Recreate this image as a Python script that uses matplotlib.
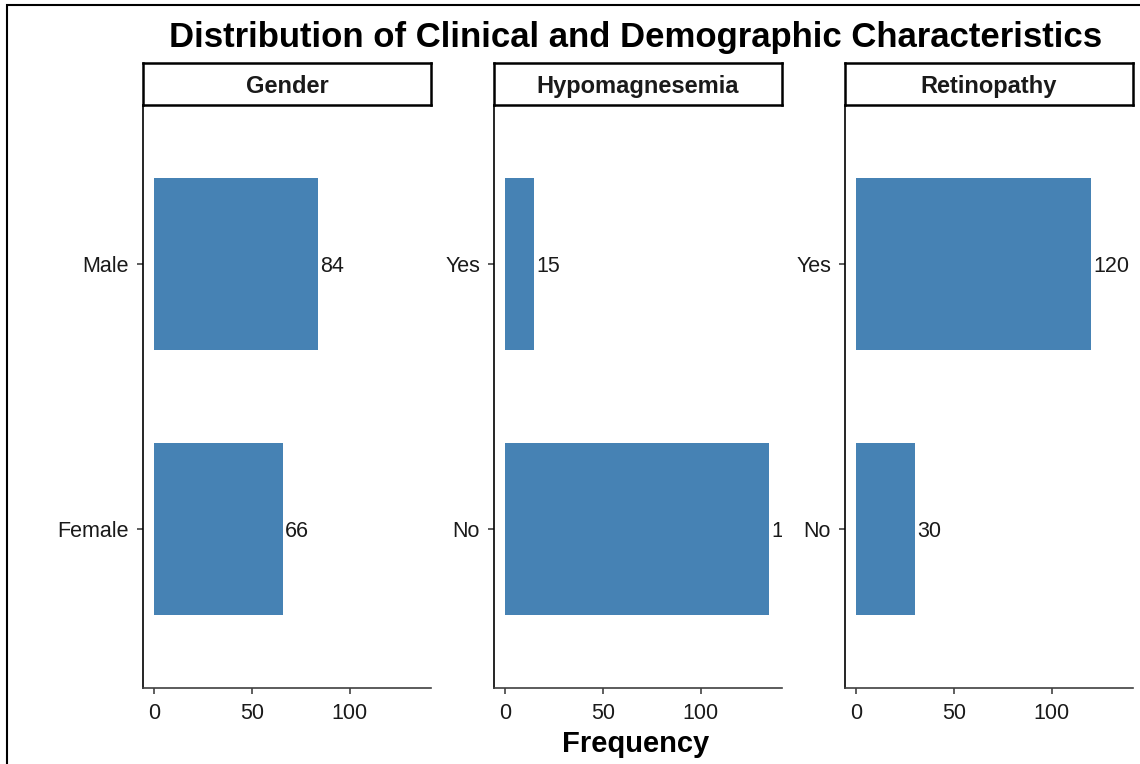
#!/usr/bin/env python

# Faceted bar chart of clinical / demographic counts
import matplotlib
matplotlib.use("Agg")
import matplotlib.pyplot as plt
from matplotlib.patches import Rectangle

plt.rcParams["font.family"] = ["Liberation Sans", "DejaVu Sans"]

# Data (bottom category first)
panels = ["Gender", "Hypomagnesemia", "Retinopathy"]
gender_labels = ["Female", "Male"]
gender_counts = [66, 84]
hypomag_labels = ["No", "Yes"]
hypomag_counts = [135, 15]
retino_labels = ["No", "Yes"]
retino_counts = [30, 120]

categories = [gender_labels, hypomag_labels, retino_labels]
counts = [gender_counts, hypomag_counts, retino_counts]

bar_colour = "#4682B4"
W, H = 1140, 764

fig = plt.figure(figsize=(W / 100, H / 100), dpi=100, facecolor="white")

# Outer frame (partly cropped in the original)
fig.patches.append(
    Rectangle((7 / W, -0.1), 2, 1.1 - 5 / H, transform=fig.transFigure,
              fill=False, edgecolor="black", linewidth=1.5, zorder=0)
)

lefts = [143, 494, 845]
ax_top, ax_bot = 105, 688
strip_top = 63

for i, name in enumerate(panels):
    x0 = lefts[i] / W
    w = 288 / W
    ax = fig.add_axes([x0, 1 - ax_bot / H, w, (ax_bot - ax_top) / H])
    pos = list(range(1, len(categories[i]) + 1))
    ax.barh(pos, counts[i], height=0.65, color=bar_colour)
    for p, v in zip(pos, counts[i]):
        # labels run past the panel edge get cut off, as in the original
        ax.annotate(str(v), (v, p), xytext=(1.5, 0), textcoords="offset points",
                    va="center_baseline", ha="left", fontsize=15.5,
                    color="#1a1a1a", annotation_clip=False, clip_on=True)
    ax.set_xlim(-5.6, 141.5)
    ax.set_ylim(0.4, len(pos) + 0.6)
    ax.set_yticks(pos)
    ax.set_yticklabels(categories[i], va="center_baseline")
    ax.set_xticks([0, 50, 100])
    for s in ["top", "right"]:
        ax.spines[s].set_visible(False)
    ax.spines["left"].set_color("black")
    ax.spines["bottom"].set_color("#404040")
    ax.spines["left"].set_linewidth(1.2)
    ax.spines["bottom"].set_linewidth(1.2)
    ax.tick_params(axis="both", length=4, width=1.1, color="#333333",
                   labelsize=15.5, labelcolor="#1a1a1a")
    ax.tick_params(axis="y", pad=6)
    ax.tick_params(axis="x", pad=7)

    # Facet strip
    sax = fig.add_axes([x0, 1 - ax_top / H, w, (ax_top - strip_top) / H])
    sax.set_xticks([])
    sax.set_yticks([])
    for s in sax.spines.values():
        s.set_linewidth(1.8)
        s.set_color("black")
    sax.text(0.5, 0.5, name, ha="center", va="center_baseline", fontsize=17,
             fontweight="bold", color="#1a1a1a", transform=sax.transAxes)

fig.text(635.5 / W, 1 - 34 / H,
         "Distribution of Clinical and Demographic Characteristics",
         ha="center", va="center_baseline", fontsize=25, fontweight="bold")
fig.text(636 / W, 1 - 741 / H, "Frequency", ha="center",
         va="center_baseline", fontsize=21, fontweight="bold")

fig.savefig("out.png", dpi=100, facecolor="white")
